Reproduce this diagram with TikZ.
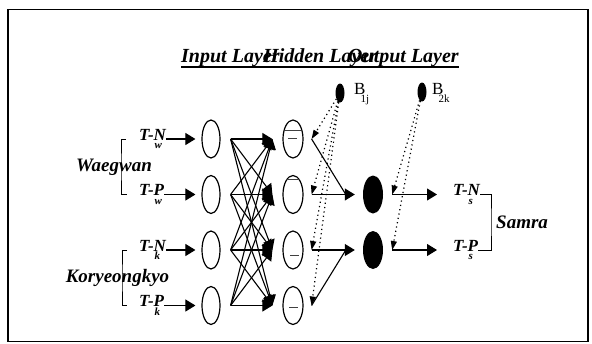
\documentclass[tikz,border=0pt]{standalone}
\usepackage{fontspec}
\setmainfont{Liberation Serif}
\usetikzlibrary{arrows.meta,shapes.geometric}
\newcommand{\sbx}[2]{#1\makebox[0pt][l]{\hspace{-5pt}\raisebox{-0.45em}{\fontsize{11}{11}\selectfont #2}}}
\newcommand{\tlab}[2]{T-\makebox[0pt][l]{\hspace{1pt}\raisebox{-0.5em}{\fontsize{11}{11}\selectfont #2}}#1}
\begin{document}
\begin{tikzpicture}[x=1pt,y=-1pt,
  conn/.style={line width=1.1pt,draw=black},
  arr/.style={conn,-{Triangle[length=10pt,width=12pt]}},
  barr/.style={line width=1.2pt,dash pattern=on 1.2pt off 3.2pt,-{Triangle[length=9pt,width=6pt]}},
  inode/.style={draw,ellipse,line width=1.2pt,minimum width=18pt,minimum height=38pt,inner sep=0pt},
  hnode/.style={inode,minimum width=20pt},
  onode/.style={ellipse,fill=black,minimum width=20pt,minimum height=38pt,inner sep=0pt},
  bnode/.style={ellipse,fill=black,minimum width=9pt,minimum height=19pt,inner sep=0pt},
  lab/.style={font=\fontsize{17}{17}\selectfont\bfseries\itshape,inner sep=0pt},
  grp/.style={font=\fontsize{19}{19}\selectfont\bfseries\itshape,inner sep=0pt},
  ttl/.style={font=\fontsize{20}{20}\selectfont\bfseries\itshape,inner sep=0pt},
  blab/.style={font=\fontsize{17}{17}\selectfont,inner sep=0pt}]
\useasboundingbox (0,0) rectangle (592,343);
\draw[line width=1.1pt] (8,9.5) rectangle (588,341.5);

% title
\node[ttl,anchor=base west] (ti1) at (181,62.5) {Input Layer};
\node[ttl,anchor=base west] (ti2) at (263,62.5) {Hidden Layer};
\node[ttl,anchor=base west] (ti3) at (348,62.5) {Output Layer};
\draw[line width=1.4pt] ([yshift=-4.5pt]ti1.base west) -- ([yshift=-4.5pt]ti3.base east);

% layers
\foreach \i/\y in {1/139,2/194.5,3/250,4/305.5}{
  \node[inode] (i\i) at (211,\y) {};
  \node[hnode] (h\i) at (293,\y) {};
}
\node[onode] (o1) at (373,194.5) {};
\node[onode] (o2) at (373,250) {};
\node[bnode] (b1) at (340,93) {};
\node[bnode] (b2) at (422,92) {};
\node[blab,anchor=west] (bl1) at (354,94) {\sbx{B}{1j}};
\node[blab,anchor=west] (bl2) at (432,93) {\sbx{B}{2k}};

% hidden hatch marks
\begin{scope}[line width=0.8pt,black!75]
\draw ([xshift=-8pt,yshift=9pt]h1.center) -- ([xshift=8pt,yshift=9pt]h1.center);
\draw ([xshift=-5pt,yshift=1pt]h1.center) -- ([xshift=4pt,yshift=1pt]h1.center);
\draw ([xshift=-7pt,yshift=15pt]h2.center) -- ([xshift=7pt,yshift=15pt]h2.center);
\draw ([xshift=-3pt,yshift=-5pt]h3.center) -- ([xshift=6pt,yshift=-5pt]h3.center);
\draw ([xshift=-4pt,yshift=-2pt]h4.center) -- ([xshift=5pt,yshift=-2pt]h4.center);
\end{scope}

% input labels
\node[lab,anchor=west] (l1) at (139,139) {\tlab{N}{w}};
\node[lab,anchor=west] (l2) at (139,194.5) {\tlab{P}{w}};
\node[lab,anchor=west] (l3) at (139,250) {\tlab{N}{k}};
\node[lab,anchor=west] (l4) at (139,305.5) {\tlab{P}{k}};
\foreach \i in {1,...,4}{
  \draw[arr] (l\i.east) -- ([xshift=-6pt]i\i.west);
}

% brackets
\coordinate (wb) at (121,167);
\coordinate (kb) at (122,278);
\draw[conn,line width=0.9pt] ([xshift=-13pt]l1.west) -| (wb) |- ([xshift=-12pt]l2.west);
\draw[conn,line width=0.9pt] ([xshift=-12pt]l3.west) -| (kb) |- ([xshift=-12pt]l4.west);
\node[grp] (wg) at (114,167) {Waegwan};
\node[grp] (ko) at (117.5,278) {Koryeongkyo};

% full connections input -> hidden
\foreach \i in {1,...,4}{
  \foreach \j in {1,...,4}{
    \draw[arr] ([xshift=10pt]i\i.east) -- ([xshift=-10pt]h\j.west);
  }
}

% hidden -> output
\foreach \i in {1,...,4}{ \coordinate (s\i) at ([xshift=8pt]h\i.east); }
\draw[conn] (s1) -- ([xshift=-17pt]o1.west);
\draw[arr] (s2) -- ([xshift=-8pt]o1.west);
\draw[arr] (s3) -- ([xshift=-8pt]o2.west);
\draw[conn] (s4) -- ([xshift=-17pt]o2.west);

% bias B1j
\foreach \i in {1,...,4}{ \draw[barr] (b1) -- (s\i); }

% output side
\coordinate (t1) at ([xshift=9pt]o1.east);
\coordinate (t2) at ([xshift=9pt]o2.east);
\draw[barr] (b2) -- (t1);
\draw[barr] (b2) -- (t2);
\node[lab,anchor=west] (r1) at (453,194.5) {\tlab{N}{s}};
\node[lab,anchor=west] (r2) at (453,250) {\tlab{P}{s}};
\draw[arr] (t1) -- ([xshift=-16pt]r1.west);
\draw[arr] (t2) -- ([xshift=-16pt]r2.west);
\coordinate (sb) at (491,222);
\draw[conn,line width=0.9pt] (r1.east) -| (sb) |- (r2.east);
\node[grp,anchor=west] (sa) at (496,222) {Samra};
\end{tikzpicture}
\end{document}
